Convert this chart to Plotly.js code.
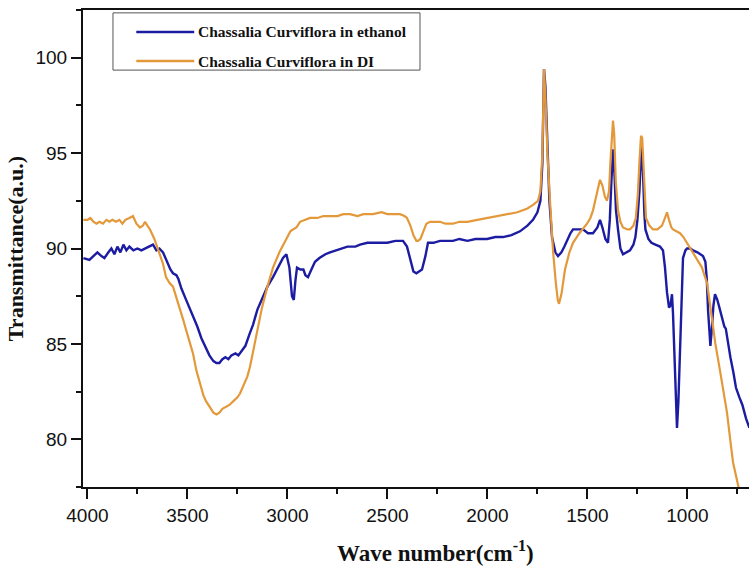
<!DOCTYPE html>
<html>
<head>
<meta charset="utf-8">
<script src="https://cdn.plot.ly/plotly-3.0.1.min.js"></script>
<style>
  html, body { margin: 0; padding: 0; background: #ffffff; }
  #chart { width: 749px; height: 566px; }
</style>
</head>
<body>
<div id="chart"></div>
<script>
// FTIR spectra of Chassalia Curviflora extracts (wavenumber in cm^-1, transmittance in a.u.)
const seriesNames = ["Chassalia Curviflora in ethanol", "Chassalia Curviflora in DI"];
const xTitle = "Wave number(cm<sup>-1</sup>)";
const yTitle = "Transmittance(a.u.)";

const ethanolWave = [
  4020, 3990, 3970, 3950, 3930, 3915, 3895, 3880, 3865, 3850, 3835, 3820, 3805, 3790, 3770, 3750,
  3730, 3710, 3690, 3672, 3655, 3640, 3622, 3600, 3585, 3572, 3555, 3545, 3530, 3510, 3490, 3472,
  3450, 3430, 3410, 3390, 3370, 3355, 3340, 3325, 3310, 3295, 3280, 3260, 3245, 3230, 3210, 3190,
  3172, 3150, 3127, 3100, 3072, 3045, 3022, 3005, 2990, 2977, 2968, 2960, 2952, 2935, 2920, 2910,
  2897, 2880, 2862, 2840, 2810, 2787, 2760, 2737, 2700, 2660, 2637, 2600, 2570, 2537, 2500, 2460,
  2422, 2402, 2385, 2370, 2355, 2340, 2327, 2310, 2297, 2270, 2237, 2200, 2172, 2140, 2100, 2060,
  2002, 1960, 1922, 1880, 1837, 1800, 1772, 1750, 1735, 1725, 1717, 1710, 1700, 1690, 1677, 1660,
  1647, 1630, 1615, 1602, 1585, 1572, 1545, 1522, 1497, 1472, 1450, 1437, 1425, 1410, 1397, 1388,
  1380, 1372, 1365, 1357, 1347, 1335, 1322, 1305, 1287, 1270, 1260, 1250, 1240, 1230, 1222, 1215,
  1210, 1195, 1180, 1160, 1137, 1122, 1112, 1102, 1092, 1085, 1077, 1072, 1065, 1058, 1052, 1045,
  1037, 1030, 1022, 1010, 1002, 985, 972, 950, 922, 910, 903, 897, 890, 885, 877, 870,
  862, 850, 840, 827, 815, 808, 797, 785, 770, 757, 740, 725, 707, 690
];
const ethanolT = [
  89.5, 89.4, 89.6, 89.8, 89.6, 89.5, 89.8, 90.0, 89.7, 90.1, 89.8, 90.2, 89.9, 90.1, 89.9, 90.0,
  89.9, 90.0, 90.1, 90.2, 89.9, 90.0, 89.8, 89.2, 88.9, 88.7, 88.6, 88.4, 87.9, 87.4, 86.9, 86.5,
  85.9, 85.3, 84.8, 84.4, 84.1, 84.0, 84.0, 84.2, 84.3, 84.2, 84.4, 84.5, 84.4, 84.6, 84.9, 85.5,
  86.0, 86.8, 87.4, 88.0, 88.5, 89.0, 89.5, 89.7, 89.0, 87.5, 87.3, 88.3, 89.0, 88.9, 88.9, 88.6,
  88.5, 88.9, 89.3, 89.5, 89.7, 89.8, 89.9, 90.0, 90.1, 90.1, 90.2, 90.3, 90.3, 90.3, 90.3, 90.4,
  90.4, 90.1, 89.4, 88.8, 88.7, 88.8, 88.9, 89.6, 90.3, 90.3, 90.4, 90.4, 90.4, 90.5, 90.4, 90.5,
  90.5, 90.6, 90.6, 90.7, 90.9, 91.2, 91.5, 91.9, 92.5, 94.5, 99.4, 98.5, 95.5, 92.5, 90.6, 89.8,
  89.6, 89.8, 90.1, 90.4, 90.8, 91.0, 91.0, 91.0, 90.8, 90.8, 91.1, 91.5, 91.1, 90.5, 90.3, 91.5,
  93.5, 95.2, 94.0, 92.0, 91.0, 90.0, 89.7, 89.8, 89.9, 90.2, 90.6, 91.5, 93.0, 95.3, 94.0, 91.8,
  91.0, 90.5, 90.3, 90.2, 90.1, 89.9, 89.0, 87.7, 86.9, 87.0, 87.6, 86.6, 84.5, 82.0, 80.6, 82.0,
  84.8, 88.0, 89.5, 89.9, 90.0, 90.0, 89.9, 89.8, 89.6, 89.3, 88.4, 86.8, 85.4, 84.9, 85.9, 87.0,
  87.6, 87.3, 86.9, 86.3, 85.9, 85.8, 85.0, 84.3, 83.5, 82.7, 82.2, 81.8, 81.1, 80.6
];

const diWave = [
  4020, 4000, 3985, 3970, 3955, 3940, 3922, 3905, 3890, 3875, 3857, 3840, 3825, 3810, 3790, 3772,
  3755, 3737, 3722, 3712, 3700, 3687, 3665, 3647, 3630, 3622, 3607, 3590, 3572, 3550, 3522, 3500,
  3472, 3455, 3437, 3420, 3407, 3385, 3370, 3355, 3340, 3325, 3307, 3290, 3270, 3250, 3237, 3215,
  3200, 3187, 3165, 3150, 3127, 3100, 3072, 3040, 3002, 2985, 2972, 2955, 2937, 2910, 2887, 2850,
  2820, 2787, 2750, 2720, 2687, 2650, 2620, 2572, 2530, 2500, 2460, 2437, 2415, 2402, 2385, 2370,
  2355, 2347, 2335, 2320, 2305, 2287, 2260, 2237, 2210, 2172, 2140, 2100, 2050, 2002, 1950, 1900,
  1850, 1800, 1770, 1747, 1735, 1725, 1717, 1710, 1700, 1687, 1672, 1658, 1648, 1642, 1630, 1612,
  1590, 1572, 1540, 1502, 1485, 1472, 1455, 1445, 1437, 1425, 1412, 1402, 1392, 1385, 1377, 1372,
  1366, 1358, 1347, 1335, 1322, 1300, 1287, 1270, 1258, 1248, 1240, 1232, 1226, 1218, 1212, 1207,
  1190, 1172, 1150, 1127, 1112, 1102, 1092, 1080, 1072, 1050, 1037, 1020, 1002, 985, 972, 950,
  927, 915, 902, 890, 877, 860, 837, 820, 802, 785, 772, 755, 742, 730
];
const diT = [
  91.5, 91.5, 91.6, 91.4, 91.3, 91.4, 91.3, 91.5, 91.4, 91.5, 91.4, 91.5, 91.3, 91.5, 91.6, 91.7,
  91.3, 91.1, 91.2, 91.4, 91.2, 91.0, 90.5, 90.0, 89.5, 89.2, 88.5, 88.2, 88.0, 87.3, 86.3, 85.5,
  84.5, 83.6, 82.9, 82.3, 82.0, 81.6, 81.4, 81.3, 81.4, 81.6, 81.7, 81.8, 82.0, 82.2, 82.4, 82.9,
  83.3, 83.8, 84.9, 85.7, 86.9, 88.0, 89.0, 89.8, 90.6, 90.9, 91.0, 91.1, 91.4, 91.5, 91.6, 91.6,
  91.7, 91.7, 91.7, 91.8, 91.8, 91.7, 91.8, 91.8, 91.9, 91.8, 91.8, 91.8, 91.7, 91.6, 91.2, 90.7,
  90.4, 90.4, 90.5, 90.9, 91.3, 91.4, 91.4, 91.4, 91.3, 91.3, 91.4, 91.4, 91.5, 91.6, 91.7, 91.8,
  91.9, 92.1, 92.3, 92.5, 93.0, 95.0, 99.4, 98.0, 95.0, 92.5, 89.9, 88.2, 87.3, 87.1, 87.6, 88.9,
  89.8, 90.3, 90.8, 91.3, 91.6, 92.0, 92.8, 93.4, 93.6, 93.3, 92.7, 92.5, 93.0, 94.5, 96.2, 96.7,
  96.0, 93.5, 92.0, 91.4, 91.1, 91.0, 91.0, 91.2, 91.6, 92.8, 94.5, 95.9, 95.8, 94.0, 92.3, 91.6,
  91.2, 91.0, 91.0, 91.2, 91.6, 91.9, 91.5, 91.1, 91.0, 90.9, 90.8, 90.6, 90.3, 90.0, 89.8, 89.4,
  89.0, 88.6, 88.2, 87.3, 86.3, 85.0, 83.6, 82.5, 81.4, 79.9, 78.8, 78.0, 77.4, 76.8
];

const xTickVals = [4000, 3500, 3000, 2500, 2000, 1500, 1000];
const yTickVals = [80, 85, 90, 95, 100];

const lineColors = ["#1c1ca3", "#e3993a"];

const serif = "Liberation Serif, Times New Roman, serif";
const sans = "Liberation Sans, Arial, sans-serif";

const traces = [
  { x: ethanolWave, y: ethanolT, name: seriesNames[0], type: "scatter", mode: "lines",
    line: { color: lineColors[0], width: 2.4 } },
  { x: diWave, y: diT, name: seriesNames[1], type: "scatter", mode: "lines",
    line: { color: lineColors[1], width: 2.2 } }
];

// Legend drawn as a framed box with long sample lines
const legendRows = [0.954, 0.893];
const shapes = [
  { type: "rect", xref: "paper", yref: "paper", x0: 0.045, x1: 0.506, y0: 0.874, y1: 0.994,
    line: { color: "#555555", width: 1 }, fillcolor: "#ffffff", layer: "above" }
];
const annotations = [];
legendRows.forEach((yy, i) => {
  shapes.push({ type: "line", xref: "paper", yref: "paper", x0: 0.080, x1: 0.167, y0: yy, y1: yy,
    line: { color: lineColors[i], width: 2.6 }, layer: "above" });
  annotations.push({ xref: "paper", yref: "paper", x: 0.170, y: yy, xanchor: "left", yanchor: "middle",
    showarrow: false, text: seriesNames[i],
    font: { family: serif, size: 15.5, color: "#111111", weight: "bold" } });
});

// x-axis title, sitting a little right of the plot centre
annotations.push({ xref: "paper", yref: "paper", x: 0.530, y: -0.136, xanchor: "center", yanchor: "middle",
  showarrow: false, text: xTitle,
  font: { family: serif, size: 23, color: "#111111", weight: "bold" } });

const layout = {
  width: 749, height: 566,
  margin: { l: 83, r: 0, t: 10, b: 79 },
  paper_bgcolor: "#ffffff", plot_bgcolor: "#ffffff",
  showlegend: false,
  xaxis: {
    range: [4022, 692], autorange: false,
    tickvals: xTickVals, ticks: "outside", ticklen: 10, tickwidth: 2, tickcolor: "#111111",
    minor: { dtick: 250, ticks: "outside", ticklen: 5, tickwidth: 2, tickcolor: "#111111" },
    showline: true, linecolor: "#111111", linewidth: 2, mirror: true,
    showgrid: false, zeroline: false,
    tickfont: { family: sans, size: 19, color: "#111111" }
  },
  yaxis: {
    range: [77.5, 102.5], autorange: false,
    tickvals: yTickVals, ticks: "outside", ticklen: 10, tickwidth: 2, tickcolor: "#111111",
    minor: { dtick: 2.5, ticks: "outside", ticklen: 5, tickwidth: 2, tickcolor: "#111111" },
    showline: true, linecolor: "#111111", linewidth: 2, mirror: false,
    showgrid: false, zeroline: false,
    tickfont: { family: sans, size: 19, color: "#111111" },
    title: { text: yTitle, standoff: 6,
      font: { family: serif, size: 22, color: "#111111", weight: "bold" } }
  },
  shapes: shapes,
  annotations: annotations
};

Plotly.newPlot("chart", traces, layout, { displayModeBar: false, staticPlot: true });
</script>
</body>
</html>
